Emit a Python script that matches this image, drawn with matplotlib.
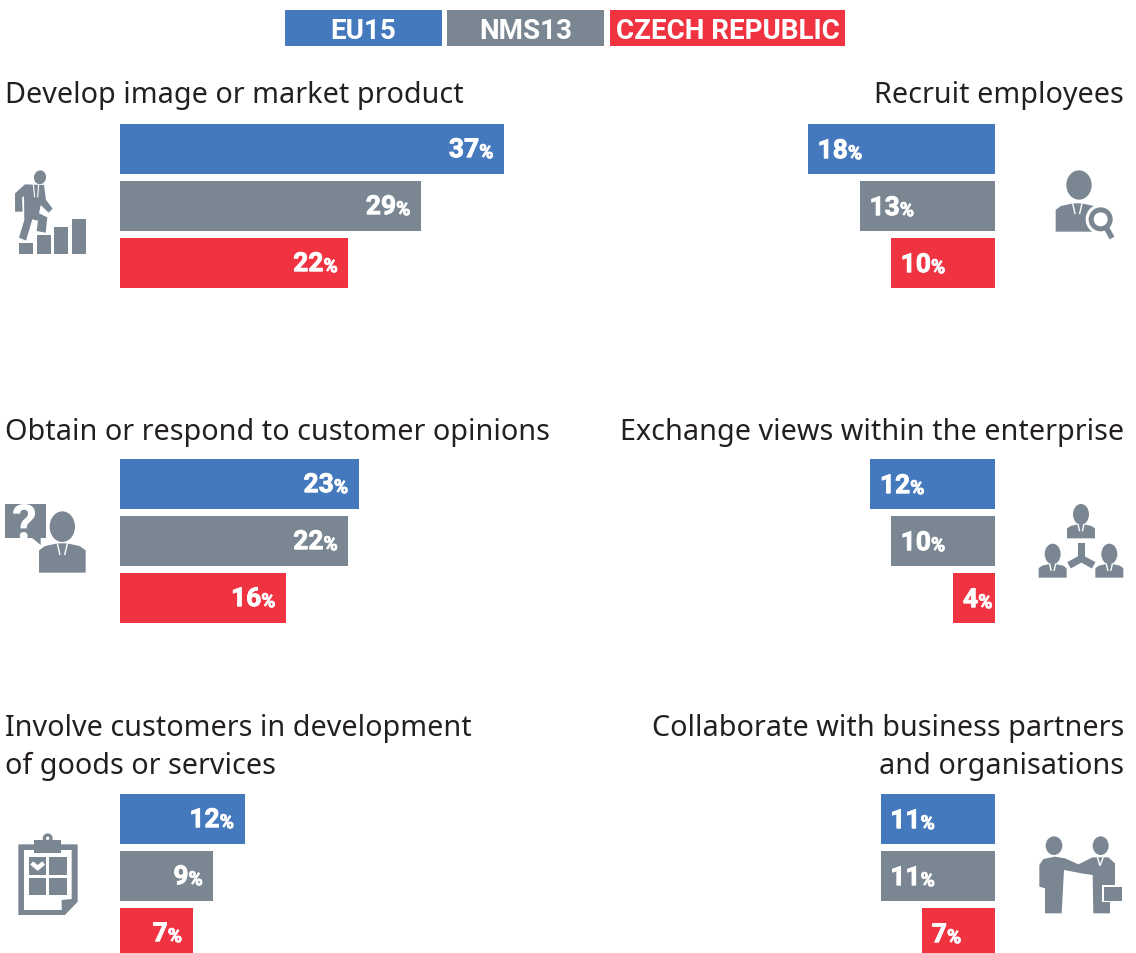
import matplotlib
matplotlib.use("Agg")
import matplotlib.pyplot as plt
import matplotlib.patheffects as pe
from matplotlib.patches import Circle, Ellipse, Polygon, Rectangle

W, H = 1136, 954
BLUE, GRAY, RED = "#4479BD", "#7A8793", "#EF3340"
INK = "#231F20"

series = ["EU15", "NMS13", "CZECH REPUBLIC"]
colors = [BLUE, GRAY, RED]

titles = [
    "Develop image or market product",
    "Recruit employees",
    "Obtain or respond to customer opinions",
    "Exchange views within the enterprise",
    "Involve customers in development\nof goods or services",
    "Collaborate with business partners\nand organisations",
]
eu15 = [37, 18, 23, 12, 12, 11]
nms13 = [29, 13, 22, 10, 9, 11]
czech = [22, 10, 16, 4, 7, 7]

fig = plt.figure(figsize=(W / 100, H / 100), dpi=100)
bg = fig.add_axes([0, 0, 1, 1])
bg.set_xlim(0, W)
bg.set_ylim(H, 0)
bg.axis("off")

heavy = [pe.withStroke(linewidth=0.6, foreground="white")]


def pixel_axes(left, top, width, height):
    return fig.add_axes([left / W, 1 - (top + height) / H, width / W, height / H])


def pts(ox, oy, coords):
    return [(ox + x / 3, oy + y / 3) for x, y in coords]


def poly(ox, oy, coords, color=GRAY):
    bg.add_patch(Polygon(pts(ox, oy, coords), closed=True, fc=color, ec="none"))


def rect(ox, oy, x0, y0, x1, y1, color=GRAY):
    bg.add_patch(Rectangle((ox + x0 / 3, oy + y0 / 3), (x1 - x0) / 3, (y1 - y0) / 3, fc=color, ec="none"))


def oval(ox, oy, cx, cy, rx, ry, color=GRAY, angle=0):
    bg.add_patch(Ellipse((ox + cx / 3, oy + cy / 3), 2 * rx / 3, 2 * ry / 3, angle=angle, fc=color, ec="none"))


def stroke(ox, oy, coords, width, color=GRAY):
    p = pts(ox, oy, coords)
    bg.plot([a for a, _ in p], [b for _, b in p], color=color, lw=width, solid_capstyle="butt", solid_joinstyle="miter")


def person(ox, oy, cx, head_y, rx, ry, bust_top, bust_bottom, half, head_x=None):
    oval(ox, oy, cx if head_x is None else head_x, head_y, rx, ry)
    s = half * 0.2
    poly(ox, oy, [(cx - half, bust_bottom), (cx - half, bust_top + half * 0.3), (cx - half * 0.75, bust_top + half * 0.12),
                  (cx - s, bust_top), (cx + s, bust_top), (cx + half * 0.75, bust_top + half * 0.12),
                  (cx + half, bust_top + half * 0.3), (cx + half, bust_bottom)])
    # white collar lines either side of the tie
    stroke(ox, oy, [(cx - s * 1.1, bust_top - 1), (cx - s * 0.5, bust_top + half * 0.5)], 1.0, "white")
    stroke(ox, oy, [(cx + s * 1.1, bust_top - 1), (cx + s * 0.5, bust_top + half * 0.5)], 1.0, "white")


def icon_climber(ox, oy):
    oval(ox, oy, 120, 52, 18, 21, angle=10)
    poly(ox, oy, [(45, 100), (75, 73), (132, 75), (138, 120), (158, 146), (146, 158), (122, 135), (117, 160), (142, 172),
                  (137, 218), (110, 213), (114, 182), (97, 178), (78, 242), (57, 233), (73, 180), (72, 108), (66, 114),
                  (68, 155), (45, 155)])
    stroke(ox, oy, [(100, 72), (104, 112)], 0.8, "white")
    stroke(ox, oy, [(116, 72), (113, 112)], 0.8, "white")
    for x0, y0 in [(57, 249), (111, 225), (162, 201), (216, 177)]:
        rect(ox, oy, x0, y0, x0 + 42, 282)


def icon_recruit(ox, oy):
    person(ox, oy, 142, 75, 38, 44, 130, 215, 65, head_x=147)
    bg.add_patch(Circle((ox + 212 / 3, oy + 178 / 3), 45 / 3, fc="white", ec="none"))
    oval(ox, oy, 212, 178, 36, 36)
    oval(ox, oy, 212, 178, 21, 21, "white")
    stroke(ox, oy, [(230, 205), (246, 234)], 4.0)


def icon_opinion(ox, oy):
    rect(ox, oy, 15, 28, 137, 130)
    poly(ox, oy, [(95, 128), (122, 150), (122, 128)])
    bg.text(ox + 72 / 3, oy + 131 / 3, "?", color="white", fontsize=36, fontweight="bold", family="Roboto",
            ha="center", va="baseline")
    person(ox, oy, 187, 95, 38, 46, 145, 233, 70)


def icon_network(ox, oy):
    person(ox, oy, 153, 58, 24, 31, 88, 130, 42)
    person(ox, oy, 68, 177, 24, 31, 207, 248, 42)
    person(ox, oy, 238, 177, 24, 31, 207, 248, 42)
    rect(ox, oy, 143, 145, 165, 195)
    stroke(ox, oy, [(160, 187), (117, 211)], 5.2)
    stroke(ox, oy, [(148, 187), (191, 211)], 5.2)


def icon_clipboard(ox, oy):
    poly(ox, oy, [(40, 58), (218, 58), (218, 230), (180, 270), (40, 270)])
    poly(ox, oy, [(57, 75), (200, 75), (200, 222), (170, 225), (170, 255), (57, 255)], "white")
    rect(ox, oy, 88, 45, 168, 85)
    oval(ox, oy, 128, 40, 15, 15)
    oval(ox, oy, 128, 40, 5, 5, "white")
    for x0, y0 in [(72, 97), (133, 97), (72, 159), (133, 159)]:
        rect(ox, oy, x0, y0, x0 + 52, y0 + 52)
    stroke(ox, oy, [(80, 114), (98, 129), (116, 114)], 3.2, "white")


def icon_handshake(ox, oy):
    oval(ox, oy, 72, 62, 25, 28)
    oval(ox, oy, 212, 62, 24, 28)
    poly(ox, oy, [(28, 120), (40, 102), (75, 95), (105, 100), (145, 118), (188, 97), (235, 97), (255, 115), (255, 185),
                  (240, 185), (240, 265), (190, 265), (188, 150), (160, 146), (102, 135), (95, 265), (45, 265), (45, 190),
                  (28, 185)])
    stroke(ox, oy, [(202, 96), (210, 122), (220, 96)], 1.0, "white")
    rect(ox, oy, 217, 180, 278, 232, "white")
    rect(ox, oy, 222, 185, 275, 227)


# bar geometry: every panel has three 50px bars on a 57px pitch, 10.38px per percent
PX_PER_PCT = 10.38
AXIS_MAX = 40
AXIS_PX = AXIS_MAX * PX_PER_PCT
BAR_TOPS = [125, 460, 795]
LEFT_EDGE = 120
RIGHT_EDGE = 995

for i, title in enumerate(titles):
    is_left = i % 2 == 0
    top = BAR_TOPS[i // 2]
    left = LEFT_EDGE if is_left else RIGHT_EDGE - AXIS_PX
    ax = pixel_axes(left, top, AXIS_PX, 164)
    ax.set_xlim(0, AXIS_MAX) if is_left else ax.set_xlim(AXIS_MAX, 0)
    ax.set_ylim(2 + 25 / 57, -25 / 57)
    ax.axis("off")
    vals = [eu15[i], nms13[i], czech[i]]
    ax.barh(range(3), vals, height=50 / 57, color=colors)
    for j, v in enumerate(vals):
        if is_left:
            pct = ax.annotate("%", (v, j), xytext=(-7.6, -6.6), textcoords="offset points", ha="right", va="baseline",
                              color="white", fontsize=14, fontweight="bold", family="Roboto", path_effects=heavy)
            ax.annotate(str(v), (0, 0), xycoords=pct, xytext=(0, 0), textcoords="offset points", ha="right", va="bottom",
                        color="white", fontsize=19, fontweight="bold", family="Roboto", annotation_clip=False,
                        path_effects=heavy)
        else:
            num = ax.annotate(str(v), (v, j), xytext=(6.8, -6.6), textcoords="offset points", ha="left", va="baseline",
                              color="white", fontsize=19, fontweight="bold", family="Roboto", path_effects=heavy)
            ax.annotate("%", (1, 0), xycoords=num, xytext=(0, 0), textcoords="offset points", ha="left", va="bottom",
                        color="white", fontsize=14, fontweight="bold", family="Roboto", annotation_clip=False,
                        path_effects=heavy)

# legend
legend_x = [(285, 442), (447, 604), (610, 845)]
for name, color, (x0, x1) in zip(series, colors, legend_x):
    bg.add_patch(Rectangle((x0, 11), x1 - x0, 36, fc=color, ec="none"))
    bg.text((x0 + x1) / 2, 39, name, color="white", fontsize=20, fontweight="bold", family="Roboto",
            ha="center", va="baseline")

# panel headings
title_y = [103, 440, 736]
for i, title in enumerate(titles):
    is_left = i % 2 == 0
    for k, line in enumerate(title.split("\n")):
        bg.text(5 if is_left else 1124, title_y[i // 2] + 38 * k, line, color=INK, fontsize=20.7, family="Noto Sans",
                ha="left" if is_left else "right", va="baseline")

icon_climber(0, 161)
icon_recruit(1030, 161)
icon_opinion(0, 496)
icon_network(1030, 496)
icon_clipboard(5, 826)
icon_handshake(1030, 826)

bg.set_xlim(0, W)
bg.set_ylim(H, 0)
fig.savefig("out.png", dpi=100)
